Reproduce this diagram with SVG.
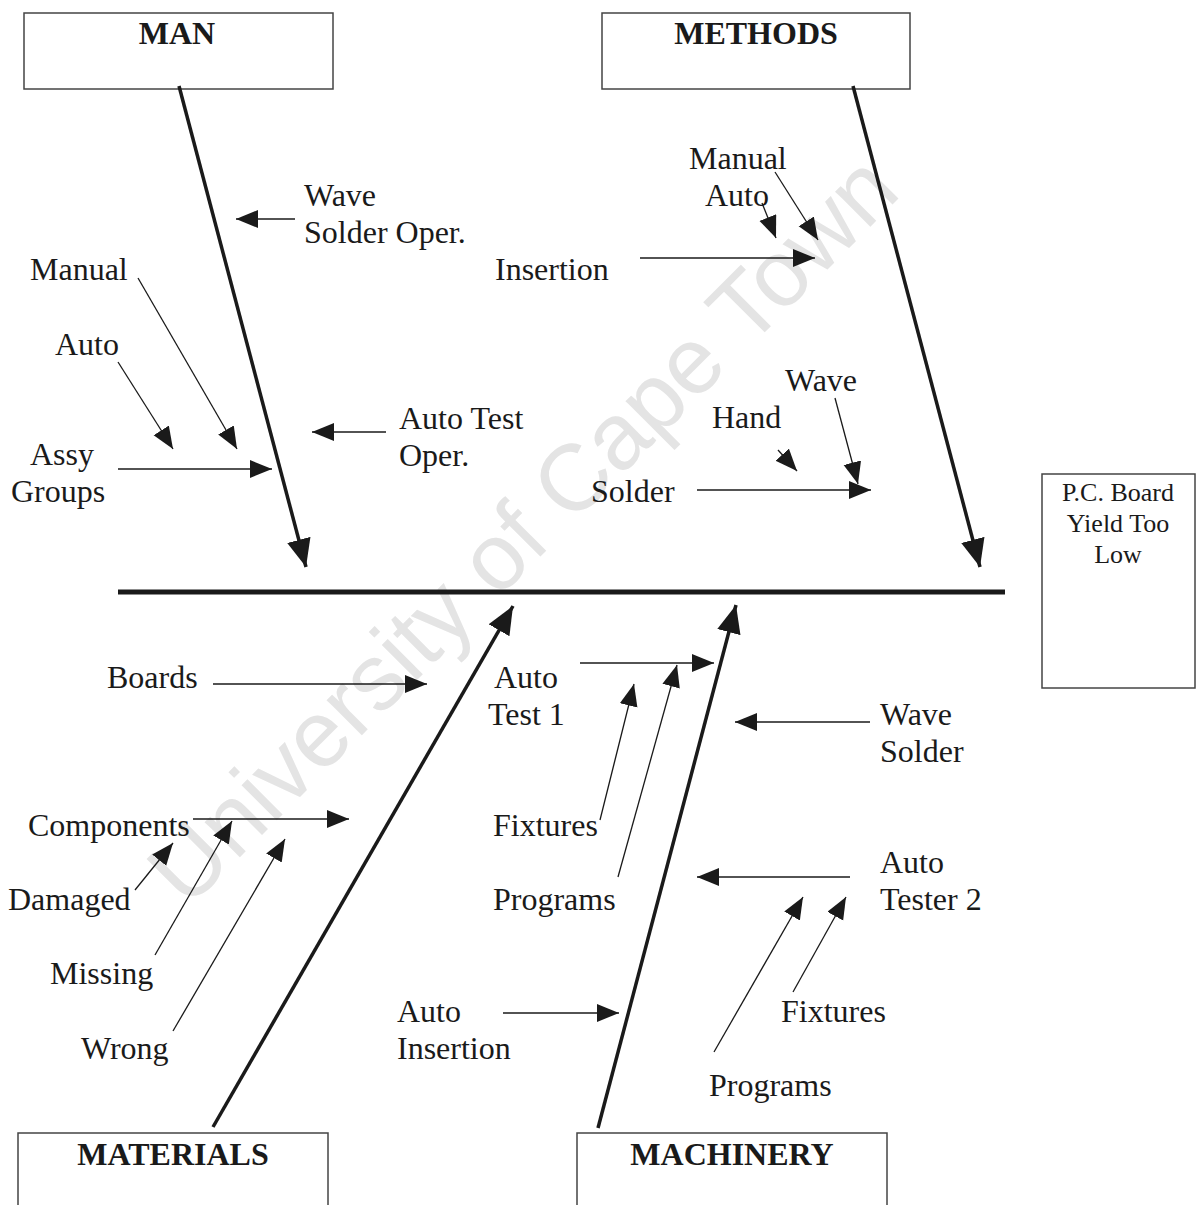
<svg xmlns="http://www.w3.org/2000/svg" width="1200" height="1205" viewBox="0 0 1200 1205">
  <style>
    .lbl { font-family: "Liberation Serif", "Times New Roman", serif; font-size: 32px; fill: #1a1a1a; }
    .head { font-family: "Liberation Serif", "Times New Roman", serif; font-size: 32px; font-weight: bold; fill: #1a1a1a; text-anchor: middle; }
    .effect { font-family: "Liberation Serif", "Times New Roman", serif; font-size: 26px; fill: #1a1a1a; text-anchor: middle; }
    .box { fill: #ffffff; stroke: #444; stroke-width: 1.5; }
    .bone { stroke: #1a1a1a; stroke-width: 3.5; fill: none; marker-end: url(#bigHead); }
    .twig { stroke: #1a1a1a; stroke-width: 1.3; fill: none; marker-end: url(#smallHead); }
    .spine { stroke: #1a1a1a; stroke-width: 5; }
    .mark { font-family: "Liberation Sans", Arial, sans-serif; font-size: 94px; fill: #e4e4e4; text-anchor: middle; }
  </style>
  <defs>
    <marker id="smallHead" markerUnits="userSpaceOnUse" markerWidth="24" markerHeight="20" refX="22" refY="9" orient="auto">
      <path d="M0,0 L22,9 L0,18 Z" fill="#1a1a1a"/>
    </marker>
    <marker id="bigHead" markerUnits="userSpaceOnUse" markerWidth="30" markerHeight="26" refX="28" refY="12" orient="auto">
      <path d="M0,0 L28,12 L0,24 Z" fill="#1a1a1a"/>
    </marker>
  </defs>

  <rect width="1200" height="1205" fill="#ffffff"/>

  <!-- background watermark -->
  <text class="mark" transform="translate(545,552) rotate(-45)">University of Cape Town</text>

  <!-- category boxes -->
  <g id="man">
    <rect class="box" x="24" y="13" width="309" height="76"/>
    <text class="head" x="177" y="44">MAN</text>
  </g>
  <g id="methods">
    <rect class="box" x="602" y="13" width="308" height="76"/>
    <text class="head" x="756" y="44">METHODS</text>
  </g>
  <g id="materials">
    <rect class="box" x="18" y="1133" width="310" height="90"/>
    <text class="head" x="173" y="1165">MATERIALS</text>
  </g>
  <g id="machinery">
    <rect class="box" x="577" y="1133" width="310" height="90"/>
    <text class="head" x="732" y="1165">MACHINERY</text>
  </g>
  <g id="effect">
    <rect class="box" x="1042" y="474" width="153" height="214"/>
    <text class="effect" x="1118" y="501">P.C. Board</text>
    <text class="effect" x="1118" y="532">Yield Too</text>
    <text class="effect" x="1118" y="563">Low</text>
  </g>

  <!-- cause labels -->
  <g id="wave-solder-oper"><text class="lbl" x="304" y="206">Wave</text><text class="lbl" x="304" y="243">Solder Oper.</text></g>
  <g id="man-manual"><text class="lbl" x="30" y="280">Manual</text></g>
  <g id="man-auto"><text class="lbl" x="55" y="355">Auto</text></g>
  <g id="assy-groups"><text class="lbl" x="30" y="465">Assy</text><text class="lbl" x="11" y="502">Groups</text></g>
  <g id="auto-test-oper"><text class="lbl" x="399" y="429">Auto Test</text><text class="lbl" x="399" y="466">Oper.</text></g>

  <g id="ins-manual"><text class="lbl" x="689" y="169">Manual</text></g>
  <g id="ins-auto"><text class="lbl" x="705" y="206">Auto</text></g>
  <g id="insertion"><text class="lbl" x="495" y="280">Insertion</text></g>
  <g id="sol-wave"><text class="lbl" x="785" y="391">Wave</text></g>
  <g id="sol-hand"><text class="lbl" x="712" y="428">Hand</text></g>
  <g id="solder"><text class="lbl" x="591" y="502">Solder</text></g>

  <g id="boards"><text class="lbl" x="107" y="688">Boards</text></g>
  <g id="components"><text class="lbl" x="28" y="836">Components</text></g>
  <g id="damaged"><text class="lbl" x="8" y="910">Damaged</text></g>
  <g id="missing"><text class="lbl" x="50" y="984">Missing</text></g>
  <g id="wrong"><text class="lbl" x="81" y="1059">Wrong</text></g>

  <g id="auto-test-1"><text class="lbl" x="494" y="688">Auto</text><text class="lbl" x="488" y="725">Test 1</text></g>
  <g id="at1-fixtures"><text class="lbl" x="493" y="836">Fixtures</text></g>
  <g id="at1-programs"><text class="lbl" x="493" y="910">Programs</text></g>
  <g id="wave-solder"><text class="lbl" x="880" y="725">Wave</text><text class="lbl" x="880" y="762">Solder</text></g>
  <g id="auto-tester-2"><text class="lbl" x="880" y="873">Auto</text><text class="lbl" x="880" y="910">Tester 2</text></g>
  <g id="auto-insertion"><text class="lbl" x="397" y="1022">Auto</text><text class="lbl" x="397" y="1059">Insertion</text></g>
  <g id="at2-fixtures"><text class="lbl" x="781" y="1022">Fixtures</text></g>
  <g id="at2-programs"><text class="lbl" x="709" y="1096">Programs</text></g>

  <!-- connectors -->
  <g id="connectors">
    <line class="spine" x1="118" y1="592" x2="1005" y2="592"/>

    <line class="bone" x1="179" y1="86" x2="306" y2="567"/>
    <line class="bone" x1="853" y1="86" x2="980" y2="567"/>
    <line class="bone" x1="213" y1="1127" x2="513" y2="606"/>
    <line class="bone" x1="598" y1="1128" x2="736" y2="605"/>

    <line class="twig" x1="295" y1="219" x2="236" y2="219"/>
    <line class="twig" x1="386" y1="432" x2="312" y2="432"/>
    <line class="twig" x1="118" y1="469" x2="272" y2="469"/>
    <line class="twig" x1="138" y1="278" x2="237" y2="449"/>
    <line class="twig" x1="118" y1="362" x2="173" y2="449"/>

    <line class="twig" x1="640" y1="258" x2="815" y2="258"/>
    <line class="twig" x1="775" y1="172" x2="818" y2="240"/>
    <line class="twig" x1="762" y1="203" x2="776" y2="238"/>
    <line class="twig" x1="697" y1="490" x2="871" y2="490"/>
    <line class="twig" x1="778" y1="450" x2="797" y2="471"/>
    <line class="twig" x1="835" y1="398" x2="858" y2="484"/>

    <line class="twig" x1="213" y1="684" x2="427" y2="684"/>
    <line class="twig" x1="193" y1="819" x2="349" y2="819"/>
    <line class="twig" x1="135" y1="890" x2="173" y2="843"/>
    <line class="twig" x1="155" y1="955" x2="232" y2="821"/>
    <line class="twig" x1="173" y1="1031" x2="285" y2="839"/>

    <line class="twig" x1="580" y1="663" x2="714" y2="663"/>
    <line class="twig" x1="600" y1="820" x2="634" y2="684"/>
    <line class="twig" x1="618" y1="877" x2="677" y2="665"/>
    <line class="twig" x1="870" y1="722" x2="735" y2="722"/>
    <line class="twig" x1="850" y1="877" x2="697" y2="877"/>
    <line class="twig" x1="503" y1="1013" x2="619" y2="1013"/>
    <line class="twig" x1="793" y1="992" x2="846" y2="897"/>
    <line class="twig" x1="714" y1="1052" x2="803" y2="897"/>
  </g>
</svg>
